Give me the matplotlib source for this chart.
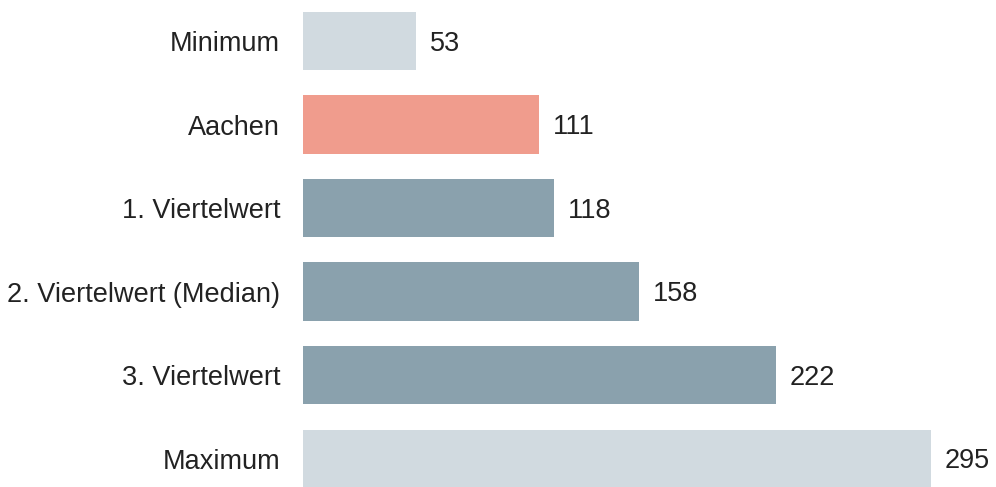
import matplotlib
matplotlib.use("Agg")
import matplotlib.pyplot as plt

# data
categories = ["Minimum", "Aachen", "1. Viertelwert", "2. Viertelwert (Median)",
              "3. Viertelwert", "Maximum"]
values = [53, 111, 118, 158, 222, 295]
colors = ["#d1dae0", "#f09c8d", "#8aa1ad", "#8aa1ad", "#8aa1ad", "#d1dae0"]

plt.rcParams["font.family"] = ["Liberation Sans", "DejaVu Sans"]
FS = 19.5

fig = plt.figure(figsize=(9.96, 4.87), dpi=100)
ax = fig.add_axes([303 / 996, 0, 1 - 303 / 996, 1])

pos = list(range(len(categories)))
ax.barh(pos, values, height=0.695, color=colors)
for p, v in zip(pos, values):
    ax.annotate(f"{v}", (v, p), xytext=(10, -2), textcoords="offset points",
                ha="left", va="center", fontsize=FS, color="#222222")

ax.set_yticks(pos)
ax.set_yticklabels(categories, fontsize=FS, color="#222222")
ax.tick_params(axis="y", length=0, pad=16.5)
ax.set_xticks([])
ax.set_xlim(0, 325.5)
ax.set_ylim(5.341, -0.491)
for s in ax.spines.values():
    s.set_visible(False)

fig.savefig("out.png", dpi=100)
